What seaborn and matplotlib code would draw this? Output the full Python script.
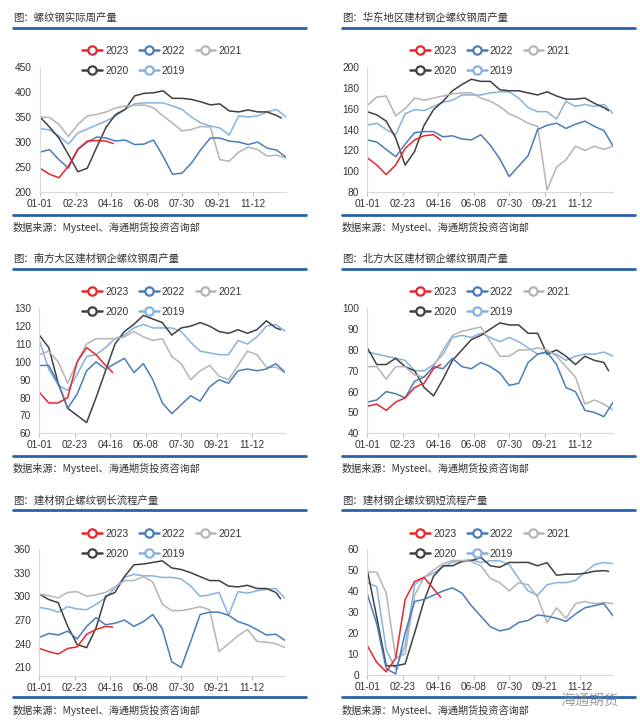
import matplotlib
matplotlib.use("Agg")
import matplotlib.pyplot as plt
from matplotlib.lines import Line2D
import seaborn as sns

# --- data (one value every two weeks) ---
years = ["2023", "2022", "2021", "2020", "2019"]
weeks_full = list(range(0, 53, 2))
weeks_2020 = list(range(0, 51, 2)) + [51]
weeks_2023 = [0, 2, 4, 6, 8, 10, 12, 14, 15.5]

tick_days = [0, 53, 105, 158, 210, 263, 315]
tick_labels = ["01-01", "02-23", "04-16", "06-08", "07-30", "09-21", "11-12"]

titles = ["图：螺纹钢实际周产量", "图：华东地区建材钢企螺纹钢周产量",
          "图：南方大区建材钢企螺纹钢周产量", "图：北方大区建材钢企螺纹钢周产量",
          "图：建材钢企螺纹钢长流程产量", "图：建材钢企螺纹钢短流程产量"]
source = "数据来源：Mysteel、海通期货投资咨询部"

# 螺纹钢实际周产量
p1_2023 = [248, 236, 229, 252, 286, 302, 303, 302, 297]
p1_2022 = [280, 285, 265, 248, 285, 300, 310, 308, 302, 304, 295, 296, 304, 272, 236,
           238, 258, 285, 308, 308, 302, 300, 295, 300, 288, 284, 270]
p1_2021 = [350, 349, 335, 311, 335, 352, 355, 360, 368, 372, 373, 374, 368, 352, 338,
           322, 325, 331, 330, 265, 262, 280, 290, 285, 272, 274, 268]
p1_2020 = [350, 330, 308, 275, 241, 248, 290, 330, 355, 365, 392, 397, 398, 402, 387,
           387, 385, 380, 374, 376, 362, 360, 364, 360, 360, 353, 348]
p1_2019 = [327, 324, 312, 296, 318, 326, 334, 342, 352, 365, 376, 378, 378, 378, 372,
           365, 350, 338, 332, 328, 314, 352, 350, 352, 360, 365, 350]

# 华东地区
p2_2023 = [113, 106, 97, 106, 122, 130, 134, 135, 130]
p2_2022 = [130, 128, 121, 114, 126, 137, 138, 138, 133, 134, 131, 130, 135, 125, 112,
           95, 105, 115, 140, 144, 146, 141, 145, 148, 143, 139, 124]
p2_2021 = [163, 171, 172, 153, 160, 170, 168, 170, 172, 174, 175, 175, 170, 167, 162,
           155, 151, 146, 143, 82, 104, 111, 124, 120, 124, 121, 124]
p2_2020 = [157, 154, 148, 132, 106, 119, 144, 159, 167, 177, 183, 188, 186, 186, 178,
           177, 177, 175, 173, 176, 172, 169, 169, 170, 165, 161, 158]
p2_2019 = [144, 146, 140, 135, 155, 159, 158, 162, 166, 168, 173, 173, 173, 175, 176,
           176, 170, 161, 157, 157, 150, 167, 162, 164, 162, 164, 155]

# 南方大区
p3_2023 = [83, 77, 77, 80, 100, 108, 104, 98, 94]
p3_2022 = [98, 98, 88, 74, 82, 95, 100, 96, 99, 102, 94, 99, 90, 77, 71,
           76, 81, 78, 86, 90, 88, 95, 96, 95, 96, 99, 94]
p3_2021 = [104, 106, 100, 88, 100, 110, 113, 113, 113, 114, 117, 114, 112, 113, 103,
           99, 90, 95, 98, 92, 90, 98, 106, 104, 97, 97, 94]
p3_2020 = [115, 108, 88, 74, 70, 66, 80, 95, 110, 117, 121, 126, 124, 122, 115,
           119, 120, 122, 120, 117, 116, 118, 116, 118, 123, 119, 118]
p3_2019 = [112, 96, 87, 84, 93, 103, 104, 108, 113, 115, 119, 121, 119, 119, 119,
           117, 111, 106, 105, 104, 104, 112, 110, 114, 120, 121, 117]

# 北方大区
p4_2023 = [53, 54, 51, 55, 57, 62, 64, 71, 73]
p4_2022 = [55, 56, 60, 59, 57, 65, 67, 72, 71, 76, 72, 71, 74, 72, 69,
           63, 64, 74, 78, 79, 73, 62, 60, 51, 50, 48, 55]
p4_2021 = [72, 72, 66, 72, 72, 68, 67, 72, 80, 87, 89, 90, 91, 84, 77,
           77, 80, 80, 81, 80, 77, 72, 67, 54, 56, 54, 51]
p4_2020 = [81, 73, 73, 76, 72, 70, 62, 58, 66, 75, 80, 85, 87, 90, 93,
           92, 92, 88, 88, 78, 80, 77, 73, 77, 75, 74, 70]
p4_2019 = [79, 78, 77, 76, 75, 70, 70, 73, 78, 86, 87, 86, 88, 86, 84,
           86, 84, 81, 78, 79, 78, 75, 77, 78, 78, 79, 77]

# 长流程
p5_2023 = [234, 230, 227, 234, 236, 252, 258, 262, 261]
p5_2022 = [248, 253, 251, 256, 246, 262, 273, 264, 266, 270, 262, 268, 277, 259, 217,
           210, 243, 277, 280, 280, 276, 268, 264, 258, 251, 252, 244]
p5_2021 = [303, 301, 298, 305, 306, 300, 302, 305, 312, 320, 320, 325, 318, 290, 282,
           282, 284, 287, 283, 230, 240, 250, 258, 243, 242, 240, 235]
p5_2020 = [303, 296, 292, 262, 239, 235, 260, 300, 305, 325, 340, 341, 343, 345, 336,
           334, 330, 325, 320, 320, 313, 312, 314, 310, 310, 305, 297]
p5_2019 = [286, 284, 280, 287, 284, 283, 290, 298, 311, 324, 328, 326, 326, 324, 324,
           322, 313, 300, 302, 305, 276, 306, 304, 307, 309, 310, 297]

# 短流程
p6_2023 = [14, 6, 1.5, 8, 36, 44.5, 46.5, 41, 37]
p6_2022 = [38.6, 24.3, 3, 0.5, 20, 35, 36, 38, 40, 41.5, 39, 33, 28, 23, 21,
           22, 25, 26, 28.6, 28, 27, 25.5, 29, 32, 33, 34, 28]
p6_2021 = [49, 49, 39, 8, 10, 38, 46.5, 50, 53, 54.5, 54.5, 54, 52, 46, 44,
           40, 44, 43, 37, 25, 32, 27, 34, 35, 34, 34.5, 34]
p6_2020 = [50, 27.5, 4.4, 4.4, 5.3, 20, 35.4, 47, 52, 52, 54, 54.4, 56, 52, 51.3,
           53.6, 53.6, 53.6, 52, 53.5, 47.5, 48, 48, 48.4, 49.4, 49.7, 49.4]
p6_2019 = [44, 42, 12, 3, 14, 43, 46.5, 48.5, 51.5, 53.7, 54.4, 55, 53.5, 54.4, 54.4,
           52.5, 46, 40, 38, 43, 44, 44, 45, 49, 52.5, 53.6, 53]

panels = [
    [p1_2023, p1_2022, p1_2021, p1_2020, p1_2019],
    [p2_2023, p2_2022, p2_2021, p2_2020, p2_2019],
    [p3_2023, p3_2022, p3_2021, p3_2020, p3_2019],
    [p4_2023, p4_2022, p4_2021, p4_2020, p4_2019],
    [p5_2023, p5_2022, p5_2021, p5_2020, p5_2019],
    [p6_2023, p6_2022, p6_2021, p6_2020, p6_2019],
]
year_weeks = [weeks_2023, weeks_full, weeks_full, weeks_2020, weeks_full]

y_ticks = [range(200, 451, 50), range(80, 201, 20), range(60, 131, 10),
           range(40, 101, 10), range(210, 361, 30), range(0, 61, 10)]
y_lims = [(200, 450), (80, 200), (60, 130), (40, 100), (199.5, 360), (0, 60)]

colors = {"2023": "#E8262B", "2022": "#4A7DB8", "2021": "#B4B4B4",
          "2020": "#404040", "2019": "#86B2DE"}

# --- style ---
sns.set_theme(style="white")
plt.rcParams["font.family"] = ["Liberation Sans", "Noto Sans CJK SC", "DejaVu Sans"]
cjk = ["Noto Sans CJK SC", "DejaVu Sans"]

W, H = 640, 724
fig = plt.figure(figsize=(6.4, 7.24), dpi=100)


def rect(l, t, r, b):
    return [l / W, 1 - b / H, (r - l) / W, (b - t) / H]


axes_px = [(40, 66.7, 286, 192.3), (367.3, 66.7, 613.3, 192.3),
           (39.3, 308.3, 285.3, 433.3), (367.3, 308.3, 613.3, 433.3),
           (39.3, 549, 285.3, 675.7), (367.3, 549, 613.3, 675)]
legend_px = [(162, 61), (490, 61), (162, 302), (490, 302), (162, 544), (490, 544)]
title_y = [18, 259, 501]
rule_top = [28.3, 269.3, 510]
rule_bot = [215, 456, 697.3]
source_y = [227.7, 468.3, 710.7]
rule_color = "#2A62A8"

for i, series in enumerate(panels):
    ax = fig.add_axes(rect(*axes_px[i]))
    # draw older years first so 2023 sits on top
    for k in [4, 3, 2, 1, 0]:
        sns.lineplot(x=year_weeks[k], y=series[k], ax=ax, color=colors[years[k]],
                     lw=1.1, legend=False)
    ax.set_xlim(0, 52)
    ax.set_ylim(*y_lims[i])
    ax.set_yticks(list(y_ticks[i]))
    ax.set_xticks([d / 7 for d in tick_days])
    ax.set_xticklabels(tick_labels)
    for s in ["top", "right"]:
        ax.spines[s].set_visible(False)
    for s in ["left", "bottom"]:
        ax.spines[s].set_color("#D9D9D9")
        ax.spines[s].set_linewidth(0.8)
    ax.tick_params(axis="x", length=3, width=0.8, color="#BFBFBF", pad=2,
                   labelsize=7.3, labelcolor="#333333", direction="out", bottom=True)
    ax.tick_params(axis="y", length=0, pad=6, labelsize=7.3, labelcolor="#333333")
    ax.set_xlabel("")
    ax.set_ylabel("")
    ax.grid(False)

    order = [0, 3, 1, 4, 2]
    handles = [Line2D([], [], color=colors[years[k]], lw=1.8, marker="o", markersize=6,
                      markerfacecolor="white", markeredgewidth=1.6) for k in order]
    cx, cy = legend_px[i]
    ax.legend(handles, [years[k] for k in order], loc="center",
              bbox_to_anchor=(cx / W, 1 - cy / H), bbox_transform=fig.transFigure,
              ncol=3, frameon=False, fontsize=7.5, handlelength=1.9,
              handletextpad=0.3, columnspacing=1.0, labelspacing=0.95,
              labelcolor="#333333")

    row, col = divmod(i, 2)
    x0, x1 = (13, 306) if col == 0 else (342, 635)
    fig.text(x0 / W, 1 - title_y[row] / H, titles[i], family=cjk, fontsize=7.5,
             color="#333333", va="center", ha="left")
    fig.text(x0 / W, 1 - source_y[row] / H, source, family=cjk, fontsize=7.3,
             color="#333333", va="center", ha="left")
    for yy in (rule_top[row], rule_bot[row]):
        fig.add_artist(Line2D([x0 / W, x1 / W], [1 - yy / H, 1 - yy / H],
                              transform=fig.transFigure, color=rule_color, lw=2.0))

# watermark
fig.text(590 / W, 1 - 701 / H, "海通期货", family=cjk, fontsize=10.5,
         color="#7F7F7F", alpha=0.75, ha="center", va="center")

fig.savefig("out.png", dpi=100)
